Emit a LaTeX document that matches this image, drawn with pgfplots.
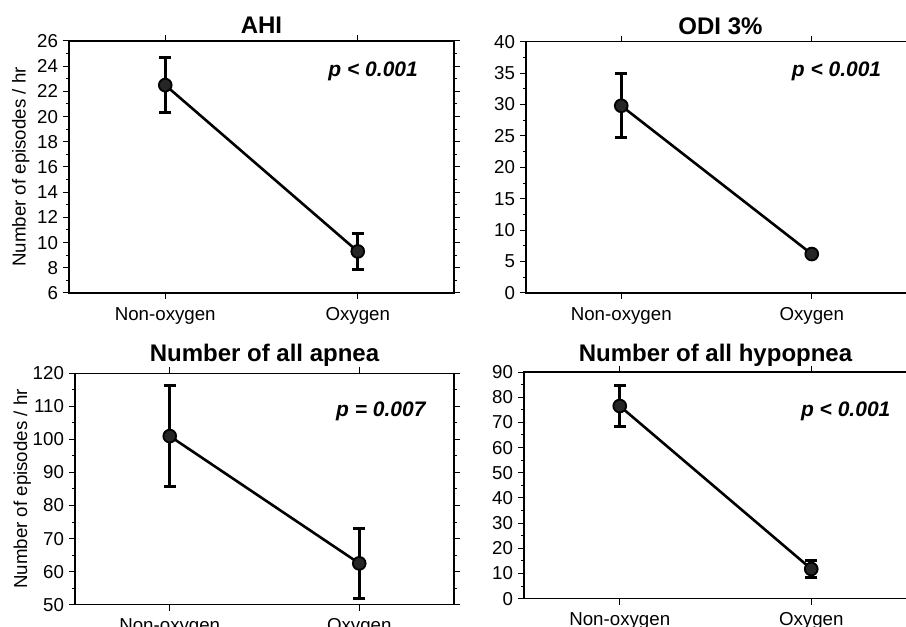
\documentclass[border=0pt]{standalone}
\usepackage{pgfplots}
\pgfplotsset{compat=1.18}
\usepackage{fontspec}
\setmainfont{Liberation Sans}
\tikzset{pval/.style={font=\fontsize{10.5}{12}\bfseries\itshape\selectfont}}
\begin{document}
\begin{tikzpicture}
\pgfplotsset{
 panel/.style={
  scale only axis, anchor=south west,
  xmin=-0.5, xmax=1.5, xtick={0,1}, xticklabels={Non-oxygen,Oxygen},
  tick align=outside,
  major tick length=3pt, minor tick length=1.6pt,
  minor y tick num=1,
  tick style={black, line width=0.5pt},
  axis line style={black, line width=0.6pt},
  /pgf/number format/assume math mode=true,
  tick label style={font=\fontsize{9.35}{11}\selectfont},
  xticklabel style={text height=7pt, text depth=2pt},
  label style={font=\fontsize{9.35}{11}\selectfont},
  title style={font=\fontsize{12}{14}\bfseries\selectfont, at={(0.5,1)}, anchor=base},
  yticklabel style={xshift=1pt},
  error bars/y dir=both, error bars/y explicit,
  error bars/error bar style={line width=1.5pt},
  error bars/error mark options={rotate=90, mark size=3pt, line width=1.5pt},
 },
 pstyle/.style={black, line width=1.3pt, mark=*, mark size=3.2pt,
    mark options={fill=black!85, draw=black, line width=0.9pt}},
}
\path[use as bounding box] (0,0) rectangle (453pt,313.5pt);
% AHI
\begin{axis}[panel, at={(34.5pt,167pt)}, width=192.5pt, height=126pt,
  ymin=6, ymax=26, ytick={6,8,...,26},
  title={AHI}, title style={yshift=-2.25pt},
  ylabel={Number of episodes / hr}, ylabel style={yshift=-3pt}]
\addplot[pstyle] table[y error=e] {
x y e
0 22.5 2.2
1 9.3 1.4
};
\node[pval] at (rel axis cs:0.79,0.881) {p < 0.001};
\end{axis}
% ODI
\begin{axis}[panel, at={(263pt,167pt)}, width=190.5pt, height=125.65pt,
  ymin=0, ymax=40, ytick={0,5,...,40},
  title={ODI 3\%}, title style={yshift=-2.25pt, xshift=2pt}]
\addplot[pstyle] table[y error=e] {
x y e
0 29.8 5.1
1 6.2 0.4
};
\node[pval] at (rel axis cs:0.815,0.883) {p < 0.001};
\end{axis}
% apnea
\begin{axis}[panel, at={(37.5pt,11.15pt)}, width=189.5pt, height=115.7pt,
  ymin=50, ymax=120, ytick={50,60,...,120},
  title={Number of all apnea}, title style={yshift=0pt},
  ylabel={Number of episodes / hr}, ylabel style={yshift=-6pt}]
\addplot[pstyle] table[y error=e] {
x y e
0 101 15.2
1 62.5 10.5
};
\node[pval] at (rel axis cs:0.807,0.837) {p = 0.007};
\end{axis}
% hypopnea
\begin{axis}[panel, at={(262pt,14.15pt)}, width=191.5pt, height=113.35pt,
  ymin=0, ymax=90, ytick={0,10,...,90},
  title={Number of all hypopnea}, title style={yshift=-0.6pt}]
\addplot[pstyle] table[y error=e] {
x y e
0 76.5 8.1
1 11.8 3.5
};
\node[pval] at (rel axis cs:0.84,0.828) {p < 0.001};
\end{axis}
\end{tikzpicture}
\end{document}
